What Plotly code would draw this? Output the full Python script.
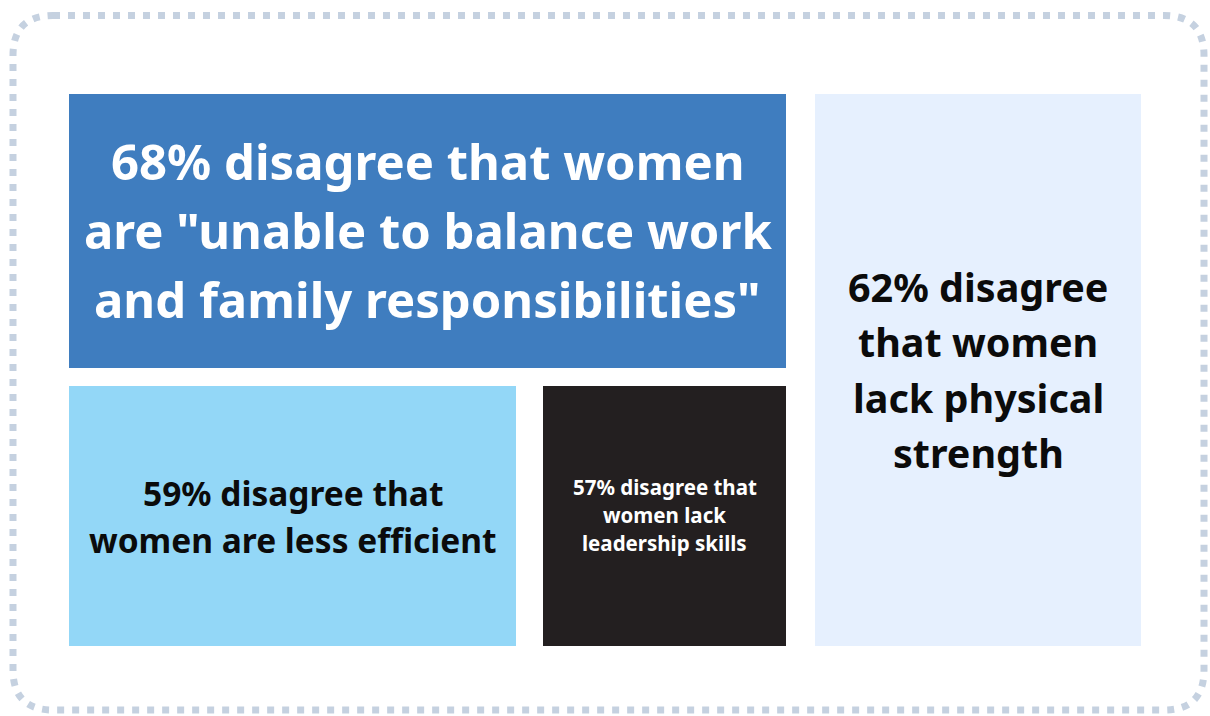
import plotly.graph_objects as go

# Survey results: share of respondents who disagree with each statement
values = [68, 62, 59, 57]
statements = [
    ['{v}% disagree that women', 'are "unable to balance work', 'and family responsibilities"'],
    ['{v}% disagree', 'that women', 'lack physical', 'strength'],
    ['{v}% disagree that', 'women are less efficient'],
    ['{v}% disagree that', 'women lack', 'leadership skills'],
]

# Tile layout (pixel canvas, y grows downward)
tiles = [
    dict(x0=69, x1=786, y0=94, y1=368, fill="#3F7DBF", ink="#FFFFFF", size=49, gap=69, yc=230),
    dict(x0=815, x1=1141, y0=94, y1=646, fill="#E6F0FE", ink="#0B0B0B", size=39.5, gap=55.5, yc=370),
    dict(x0=69, x1=516, y0=386, y1=646, fill="#93D7F7", ink="#0B0B0B", size=33.5, gap=47, yc=516),
    dict(x0=543, x1=786, y0=386, y1=646, fill="#231F20", ink="#FFFFFF", size=20.5, gap=28, yc=515),
]

W, H = 1210, 716
FONT = "Noto Sans"

fig = go.Figure()
shapes = []
annotations = []

# Dotted rounded frame
fx0, fy0, fx1, fy1, r = 13, 15.5, 1204, 710, 40
frame = (
    f"M {fx0 + r},{fy0} L {fx1 - r},{fy0} Q {fx1},{fy0} {fx1},{fy0 + r} "
    f"L {fx1},{fy1 - r} Q {fx1},{fy1} {fx1 - r},{fy1} "
    f"L {fx0 + r},{fy1} Q {fx0},{fy1} {fx0},{fy1 - r} "
    f"L {fx0},{fy0 + r} Q {fx0},{fy0} {fx0 + r},{fy0} Z"
)
shapes.append(dict(type="path", path=frame, xref="x", yref="y",
                   line=dict(color="#C5D1E0", width=7, dash="7px,8px")))

for v, lines, t in zip(values, statements, tiles):
    shapes.append(dict(type="rect", xref="x", yref="y",
                       x0=t["x0"], x1=t["x1"], y0=t["y0"], y1=t["y1"],
                       fillcolor=t["fill"], line=dict(width=0), layer="below"))
    text_lines = [ln.format(v=v) for ln in lines]
    n = len(text_lines)
    cx = (t["x0"] + t["x1"]) / 2
    for i, ln in enumerate(text_lines):
        y = t["yc"] + (i - (n - 1) / 2) * t["gap"]
        annotations.append(dict(
            x=cx, y=y, xref="x", yref="y", text=ln, showarrow=False,
            xanchor="center", yanchor="middle",
            font=dict(family=FONT, size=t["size"], color=t["ink"], weight=700),
        ))

fig.update_layout(
    width=W, height=H,
    margin=dict(l=0, r=0, t=0, b=0),
    paper_bgcolor="#FFFFFF", plot_bgcolor="#FFFFFF",
    xaxis=dict(range=[0, W], visible=False, fixedrange=True),
    yaxis=dict(range=[H, 0], visible=False, fixedrange=True),
    shapes=shapes, annotations=annotations,
    showlegend=False,
)

fig.write_html("out.html", config=dict(displayModeBar=False))
